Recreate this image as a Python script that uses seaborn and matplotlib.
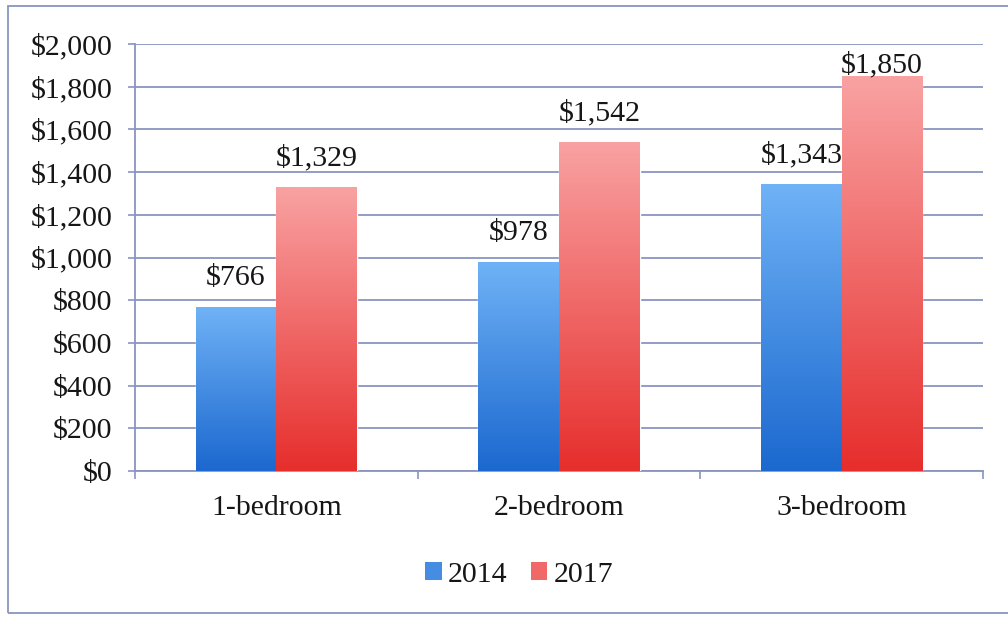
import numpy as np
import pandas as pd
import matplotlib
matplotlib.use("Agg")
import matplotlib.pyplot as plt
import seaborn as sns
from matplotlib.colors import LinearSegmentedColormap
from matplotlib.patches import Rectangle
from matplotlib.ticker import FuncFormatter, MultipleLocator

categories = ["1-bedroom", "2-bedroom", "3-bedroom"]
years = ["2014", "2017"]
rent_2014 = [766, 978, 1343]
rent_2017 = [1329, 1542, 1850]

df = pd.DataFrame({
    "category": categories * 2,
    "year": [years[0]] * 3 + [years[1]] * 3,
    "rent": rent_2014 + rent_2017,
})

sns.set_theme(style="white")
plt.rcParams["font.family"] = ["Liberation Serif", "DejaVu Serif"]

grid_color = "#8a94c0"
text_color = "#161616"
fs = 21.5
solid = {"2014": "#3d8ae6", "2017": "#f05a58"}
grads = {
    "2014": LinearSegmentedColormap.from_list("b", ["#1b68cf", "#6fb2f6"]),
    "2017": LinearSegmentedColormap.from_list("r", ["#e62e2c", "#f9a2a2"]),
}

fig = plt.figure(figsize=(10.08, 6.19), dpi=100)
ax = fig.add_axes([0.1339, 0.2391, 0.9752 - 0.1339, 0.9289 - 0.2391])

sns.barplot(data=df, x="category", y="rent", hue="year", order=categories,
            hue_order=years, palette=solid, width=0.57, gap=0,
            saturation=1, ax=ax, legend=False, zorder=3)

ymax = 2000
ax.set_ylim(0, ymax)
ax.set_xlim(-0.5, 2.5)
ax.yaxis.set_major_locator(MultipleLocator(200))
ax.yaxis.set_major_formatter(FuncFormatter(lambda v, p: f"${int(v):,}"))
ax.grid(axis="y", color=grid_color, linewidth=1.3, zorder=0)
ax.set_axisbelow(True)

# pixel -> data scale for label placement
fig.canvas.draw()
ax_h_px = ax.get_window_extent().height
px_per_unit = ax_h_px / ymax
label_gap = 29 / px_per_unit      # label centre above bar top
label_cap = ymax - 21 / px_per_unit  # keep label inside plot area

# gradient fill per bar
grad = np.linspace(0, 1, 256).reshape(-1, 1)
for container, yr in zip(ax.containers, years):
    for bar in container:
        x0, y0 = bar.get_x(), bar.get_y()
        w, h = bar.get_width(), bar.get_height()
        im = ax.imshow(grad, cmap=grads[yr], aspect="auto", origin="lower",
                       extent=[x0, x0 + w, y0, y0 + h], zorder=3.5)
        im.set_clip_path(bar)
        ax.text(x0 + w / 2, min(h + label_gap, label_cap), f"${int(h):,}",
                ha="center", va="center", fontsize=fs, color=text_color,
                zorder=5)

ax.set_xlim(-0.5, 2.5)
ax.set_ylim(0, ymax)

for s in ["top", "right"]:
    ax.spines[s].set_visible(False)
for s in ["left", "bottom"]:
    ax.spines[s].set_color(grid_color)
    ax.spines[s].set_linewidth(1.3)

ax.set_xlabel("")
ax.set_ylabel("")
ax.tick_params(axis="y", which="major", length=5, width=1.2, color=grid_color,
               direction="out", pad=11, labelsize=fs, labelcolor=text_color, left=True)
ax.tick_params(axis="x", which="major", length=0, pad=17, labelsize=fs,
               labelcolor=text_color)
ax.set_xticks([-0.5, 0.5, 1.5, 2.5], minor=True)
ax.tick_params(axis="x", which="minor", length=6, width=1.2, color=grid_color,
               direction="out", bottom=True)

handles = [Rectangle((0, 0), 1, 1, facecolor=grads[y](0.5), edgecolor="none")
           for y in years]
fig.legend(handles, years, loc="center", bbox_to_anchor=(0.515, 0.071),
           ncol=2, frameon=False, fontsize=fs, handlelength=0.55,
           handleheight=0.55, handletextpad=0.2, columnspacing=0.8,
           labelcolor=text_color)

fig.patches.append(Rectangle((0.008, 0.0097), 1.1, 0.9806, transform=fig.transFigure,
                             fill=False, edgecolor=grid_color, linewidth=1.3))

fig.savefig("out.png", dpi=100)
